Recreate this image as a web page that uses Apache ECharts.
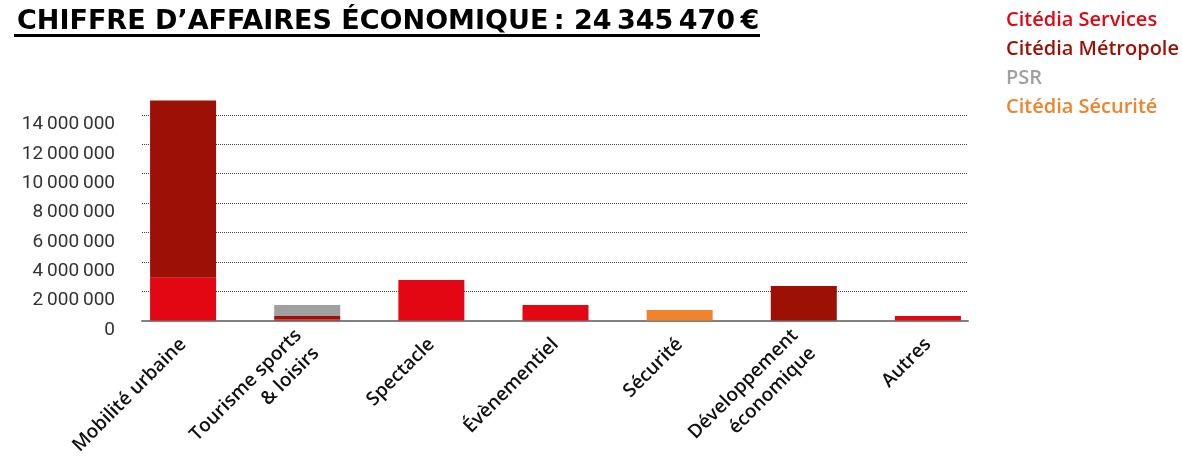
<!DOCTYPE html>
<html>
<head>
<meta charset="utf-8">
<script src="https://cdn.jsdelivr.net/npm/echarts@6/dist/echarts.min.js"></script>
<style>
  html, body { margin: 0; padding: 0; background: #fff; }
  #chart { width: 1182px; height: 464px; }
</style>
</head>
<body>
<div id="chart"></div>
<script>
// categories (x axis)
const categories = [
  'Mobilité urbaine',
  'Tourisme sports\n& loisirs',
  'Spectacle',
  'Évènementiel',
  'Sécurité',
  'Développement\néconomique',
  'Autres'
]

// values in euros
const services   = [2920000, 60000, 2760000, 1060000, 0, 0, 310000]
const metropole  = [12060000, 250000, 0, 0, 0, 2350000, 0]
const psr        = [0, 750000, 0, 0, 0, 0, 0]
const securite   = [0, 0, 0, 0, 720000, 0, 0]

const seriesNames = ['Citédia Services', 'Citédia Métropole', 'PSR', 'Citédia Sécurité']
const colors = ['#e30613', '#9c1006', '#a0a0a0', '#f0832b']

const yMin = 0
const yMax = 14000000
const yStep = 2000000

const font = 'Roboto, "Noto Sans", sans-serif'

// 14000000 -> "14 000 000" (thin spaces)
function fmt(v) {
  return String(v).replace(/\B(?=(\d{3})+(?!\d))/g, '\u2009')
}

const chart = echarts.init(document.getElementById('chart'), null, { renderer: 'canvas' })

const gridTop = 115
const gridBottom = 143.5

chart.setOption({
  animation: false,
  title: {
    text: 'CHIFFRE D\u2019AFFAIRES ÉCONOMIQUE\u202F: 24\u202F345\u202F470\u202F€',
    left: 12,
    top: 3,
    textStyle: { fontFamily: '"DejaVu Sans", sans-serif', fontSize: 27, fontWeight: 'bold', color: '#000' }
  },
  graphic: [{
    type: 'rect',
    shape: { x: 14, y: 34, width: 746, height: 3 },
    style: { fill: '#000' }
  }],
  legend: {
    orient: 'vertical',
    left: 996,
    top: 5,
    icon: 'none',
    itemWidth: 0,
    itemHeight: 18,
    itemGap: 9,
    selectedMode: false,
    textStyle: { fontFamily: '"Open Sans", sans-serif', fontSize: 20, fontWeight: 600 },
    data: seriesNames.map((n, i) => ({ name: n, textStyle: { color: colors[i] } }))
  },
  grid: [
    { left: 142, right: 214, top: gridTop, bottom: gridBottom, outerBoundsMode: 'none' },
    { left: 121, right: 192, top: gridTop, bottom: gridBottom, outerBoundsMode: 'none' }
  ],
  xAxis: [{
    gridIndex: 0,
    type: 'category',
    data: categories,
    axisLine: { lineStyle: { color: '#808080', width: 2 } },
    axisTick: { show: false },
    axisLabel: { show: false }
  }, {
    gridIndex: 1,
    type: 'category',
    data: categories,
    axisLine: { show: false },
    axisTick: { show: false },
    axisLabel: {
      rotate: 45,
      margin: 21,
      interval: 0,
      fontFamily: '"Open Sans", sans-serif',
      fontSize: 19,
      fontWeight: 600,
      color: '#111',
      lineHeight: 25
    }
  }],
  yAxis: [{
    gridIndex: 0,
    type: 'value',
    min: yMin,
    max: yMax,
    interval: yStep,
    axisLine: { show: false },
    axisTick: { show: false },
    splitLine: { lineStyle: { type: 'dotted', color: '#444', width: 1 } },
    axisLabel: {
      margin: 27,
      fontFamily: font,
      fontSize: 19,
      color: '#333',
      verticalAlign: 'top',
      formatter: fmt
    }
  }, {
    gridIndex: 1,
    type: 'value',
    min: yMin,
    max: yMax,
    interval: yStep,
    show: false
  }],
  series: [services, metropole, psr, securite].map((d, i) => ({
    name: seriesNames[i],
    type: 'bar',
    stack: 'total',
    xAxisIndex: 1,
    yAxisIndex: 1,
    barWidth: 66,
    clip: false,
    itemStyle: { color: colors[i] },
    data: d
  }))
})
</script>
</body>
</html>
